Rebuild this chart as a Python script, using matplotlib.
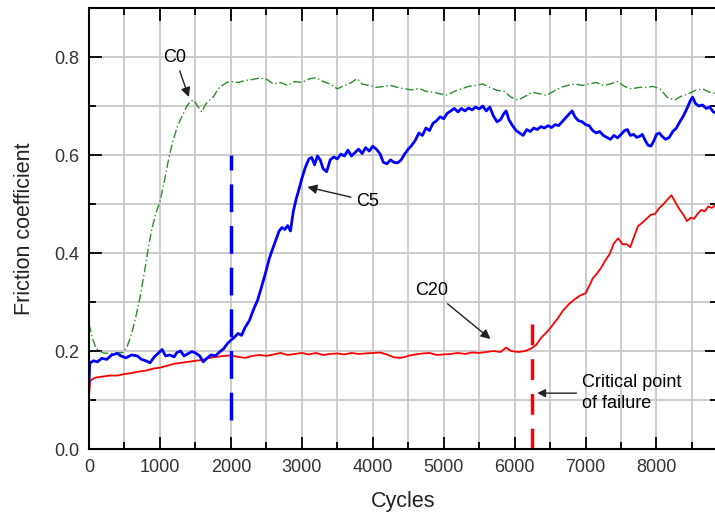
import matplotlib
matplotlib.use("Agg")
import matplotlib.pyplot as plt
from matplotlib.ticker import MultipleLocator

plt.rcParams["font.family"] = ["Liberation Sans", "DejaVu Sans"]

# C0 - green dash-dot
c0_x = [0, 50, 100, 200, 300, 400, 480, 540, 600, 660, 720, 780, 830, 880, 940,
        1000, 1060, 1120, 1180, 1250, 1320, 1380, 1430, 1480, 1530, 1590, 1640,
        1700, 1760, 1820, 1880, 1940, 2000, 2100, 2200, 2300, 2400, 2500, 2600,
        2700, 2800, 2900, 3000, 3100, 3200, 3300, 3400, 3500, 3600, 3700, 3780,
        3850, 3950, 4050, 4150, 4250, 4350, 4450, 4550, 4650, 4750, 4850, 4950,
        5050, 5150, 5250, 5350, 5450, 5550, 5650, 5750, 5850, 5950, 6050, 6150,
        6250, 6350, 6450, 6550, 6650, 6750, 6850, 6950, 7050, 7150, 7250, 7350,
        7450, 7550, 7650, 7750, 7850, 7950, 8050, 8150, 8250, 8350, 8450, 8550,
        8650, 8750, 8850]
c0_y = [0.255, 0.225, 0.205, 0.196, 0.195, 0.196, 0.197, 0.210, 0.235, 0.270,
        0.310, 0.360, 0.405, 0.445, 0.480, 0.505, 0.545, 0.590, 0.627, 0.660,
        0.682, 0.700, 0.710, 0.712, 0.700, 0.688, 0.703, 0.712, 0.720, 0.735,
        0.742, 0.748, 0.750, 0.748, 0.752, 0.754, 0.757, 0.755, 0.745, 0.748,
        0.742, 0.750, 0.748, 0.755, 0.758, 0.750, 0.745, 0.735, 0.742, 0.748,
        0.756, 0.745, 0.742, 0.738, 0.740, 0.742, 0.738, 0.735, 0.733, 0.736,
        0.730, 0.728, 0.725, 0.722, 0.730, 0.735, 0.740, 0.742, 0.745, 0.738,
        0.732, 0.730, 0.718, 0.712, 0.720, 0.728, 0.725, 0.722, 0.730, 0.738,
        0.742, 0.745, 0.742, 0.745, 0.748, 0.742, 0.745, 0.750, 0.740, 0.735,
        0.738, 0.738, 0.740, 0.735, 0.718, 0.712, 0.720, 0.725, 0.732, 0.735,
        0.728, 0.725]

# C5 - blue solid
c5_x = [0, 10, 60, 120, 180, 250, 320, 400, 450, 520, 600, 680, 740, 800, 860,
        920, 980, 1030, 1080, 1140, 1200, 1240, 1290, 1340, 1400, 1450, 1500,
        1560, 1610, 1660, 1720, 1780, 1840, 1900, 1950, 2000, 2050, 2100, 2150,
        2200, 2260, 2320, 2380, 2430, 2480, 2540, 2580, 2630, 2680, 2720, 2760,
        2800, 2840, 2880, 2920, 2960, 3000, 3050, 3100, 3140, 3180, 3220, 3260,
        3300, 3350, 3400, 3450, 3500, 3550, 3600, 3650, 3700, 3750, 3800, 3850,
        3900, 3950, 4000, 4050, 4100, 4150, 4200, 4250, 4300, 4350, 4400, 4450,
        4500, 4550, 4600, 4650, 4700, 4750, 4800, 4850, 4900, 4950, 5000, 5050,
        5100, 5150, 5200, 5250, 5300, 5350, 5400, 5450, 5500, 5550, 5600, 5650,
        5700, 5750, 5800, 5850, 5880, 5920, 5970, 6020, 6070, 6120, 6170, 6220,
        6270, 6320, 6370, 6420, 6470, 6520, 6570, 6620, 6670, 6720, 6770, 6810,
        6850, 6900, 6950, 7000, 7050, 7100, 7150, 7200, 7250, 7300, 7350, 7400,
        7450, 7500, 7550, 7590, 7630, 7680, 7720, 7760, 7800, 7840, 7880, 7920,
        7960, 8000, 8040, 8080, 8130, 8180, 8230, 8280, 8330, 8380, 8430, 8480,
        8510, 8550, 8600, 8650, 8700, 8750, 8800, 8850]
c5_y = [0.135, 0.175, 0.180, 0.178, 0.185, 0.183, 0.192, 0.195, 0.190, 0.186,
        0.192, 0.190, 0.183, 0.180, 0.176, 0.188, 0.196, 0.203, 0.190, 0.192,
        0.188, 0.197, 0.200, 0.190, 0.195, 0.199, 0.196, 0.190, 0.178, 0.185,
        0.192, 0.190, 0.198, 0.205, 0.215, 0.222, 0.228, 0.236, 0.232, 0.248,
        0.262, 0.285, 0.305, 0.330, 0.355, 0.388, 0.405, 0.425, 0.445, 0.452,
        0.448, 0.456, 0.445, 0.485, 0.510, 0.530, 0.552, 0.575, 0.592, 0.595,
        0.580, 0.598, 0.590, 0.572, 0.566, 0.590, 0.596, 0.592, 0.602, 0.598,
        0.610, 0.598, 0.605, 0.612, 0.603, 0.615, 0.608, 0.618, 0.612, 0.603,
        0.585, 0.582, 0.590, 0.585, 0.584, 0.590, 0.602, 0.612, 0.620, 0.630,
        0.645, 0.640, 0.655, 0.650, 0.665, 0.670, 0.678, 0.674, 0.685, 0.690,
        0.695, 0.688, 0.695, 0.690, 0.696, 0.692, 0.698, 0.694, 0.700, 0.690,
        0.698, 0.680, 0.668, 0.672, 0.685, 0.690, 0.672, 0.660, 0.650, 0.645,
        0.640, 0.652, 0.648, 0.655, 0.652, 0.658, 0.655, 0.660, 0.656, 0.662,
        0.660, 0.668, 0.676, 0.684, 0.690, 0.678, 0.670, 0.668, 0.662, 0.660,
        0.650, 0.645, 0.648, 0.640, 0.636, 0.632, 0.640, 0.635, 0.642, 0.650,
        0.652, 0.640, 0.642, 0.636, 0.638, 0.642, 0.630, 0.620, 0.618, 0.628,
        0.642, 0.645, 0.638, 0.632, 0.636, 0.648, 0.655, 0.668, 0.680, 0.695,
        0.712, 0.718, 0.705, 0.700, 0.702, 0.695, 0.698, 0.688, 0.685]

# C20 - red solid
c20_x = [0, 15, 50, 100, 200, 300, 400, 500, 600, 700, 800, 900, 1000, 1100,
         1200, 1300, 1400, 1500, 1600, 1700, 1800, 1900, 2000, 2100, 2200, 2300,
         2400, 2500, 2600, 2700, 2800, 2900, 3000, 3100, 3200, 3300, 3400, 3500,
         3600, 3700, 3800, 3900, 4000, 4100, 4200, 4300, 4400, 4500, 4600, 4700,
         4800, 4900, 5000, 5100, 5200, 5300, 5400, 5500, 5600, 5700, 5800, 5880,
         5950, 6050, 6150, 6230, 6300, 6380, 6450, 6520, 6600, 6680, 6760, 6840,
         6920, 7000, 7060, 7100, 7160, 7220, 7280, 7340, 7400, 7460, 7520, 7580,
         7630, 7680, 7740, 7800, 7860, 7920, 7980, 8040, 8100, 8160, 8210, 8260,
         8320, 8380, 8430, 8480, 8530, 8580, 8630, 8680, 8730, 8780, 8850]
c20_y = [0.108, 0.138, 0.143, 0.146, 0.148, 0.150, 0.150, 0.153, 0.155, 0.158,
         0.160, 0.164, 0.166, 0.170, 0.174, 0.176, 0.178, 0.180, 0.182, 0.186,
         0.188, 0.190, 0.191, 0.188, 0.186, 0.190, 0.192, 0.190, 0.193, 0.196,
         0.192, 0.194, 0.196, 0.193, 0.196, 0.192, 0.194, 0.195, 0.193, 0.196,
         0.194, 0.195, 0.196, 0.197, 0.193, 0.187, 0.186, 0.190, 0.193, 0.195,
         0.196, 0.192, 0.193, 0.194, 0.196, 0.194, 0.197, 0.196, 0.198, 0.200,
         0.198, 0.207, 0.200, 0.198, 0.200, 0.205, 0.212, 0.228, 0.238, 0.250,
         0.265, 0.282, 0.295, 0.305, 0.313, 0.318, 0.335, 0.348, 0.358, 0.370,
         0.385, 0.398, 0.420, 0.430, 0.418, 0.418, 0.412, 0.432, 0.455, 0.462,
         0.470, 0.478, 0.480, 0.492, 0.500, 0.510, 0.518, 0.505, 0.490, 0.478,
         0.465, 0.472, 0.470, 0.480, 0.488, 0.485, 0.495, 0.492, 0.500]

# vertical markers (x, y bottom, y top)
c5_mark = (2000, 0.06, 0.60)
c20_mark = (6250, 0.0, 0.28)

fig = plt.figure(figsize=(7.15, 5.17), dpi=100)
ax = fig.add_axes([0.1245, 0.1315, 0.878, 0.853])

ax.plot(c0_x, c0_y, color="#2e8b2e", lw=1.0, ls=(0, (6, 2, 1, 2)))
ax.plot(c20_x, c20_y, color="#ff0000", lw=1.3)
ax.plot(c5_x, c5_y, color="#0000ff", lw=2.0)

ax.vlines(c5_mark[0], c5_mark[1], c5_mark[2], color="#0000ff", lw=2.5,
          linestyles=(0, (8, 4)))
ax.vlines(c20_mark[0], c20_mark[1], c20_mark[2], color="#ff0000", lw=2.5,
          linestyles=(0, (6, 4)))

ax.set_xlim(0, 8850)
ax.set_ylim(0, 0.9)
ax.xaxis.set_major_locator(MultipleLocator(1000))
ax.xaxis.set_minor_locator(MultipleLocator(500))
ax.yaxis.set_major_locator(MultipleLocator(0.2))
ax.yaxis.set_minor_locator(MultipleLocator(0.1))
ax.yaxis.set_major_formatter(lambda v, p: f"{v:.1f}")

ax.grid(True, which="both", color="#c8c8c8", lw=1.3)
ax.set_axisbelow(True)
ax.tick_params(which="both", direction="in", top=True, right=True,
               labelsize=13, labelcolor="#333333", width=1.3)
ax.tick_params(which="major", length=9, pad=7)
ax.tick_params(which="minor", length=5)
for s in ax.spines.values():
    s.set_linewidth(1.5)

ax.set_xlabel("Cycles", fontsize=15.5, color="#222222", labelpad=11)
ax.set_ylabel("Friction coefficient", fontsize=15.5, color="#222222", labelpad=14)

arrow = dict(arrowstyle="-|>", color="#222222", lw=1.0, mutation_scale=14)
ax.annotate("C0", xy=(1420, 0.713), xytext=(1210, 0.800), fontsize=13,
            ha="center", va="center", arrowprops=arrow)
ax.annotate("C5", xy=(3040, 0.536), xytext=(3930, 0.506), fontsize=13,
            ha="center", va="center", arrowprops=arrow)
ax.annotate("C20", xy=(5690, 0.221), xytext=(4830, 0.323), fontsize=13,
            ha="center", va="center", arrowprops=arrow)
ax.annotate("Critical point\nof failure", xy=(6280, 0.114), xytext=(6950, 0.114),
            fontsize=13, va="center", linespacing=1.3,
            arrowprops=dict(arrowstyle="-|>", color="#222222", lw=1.0,
                            mutation_scale=12))

fig.savefig("out.png", dpi=100)
